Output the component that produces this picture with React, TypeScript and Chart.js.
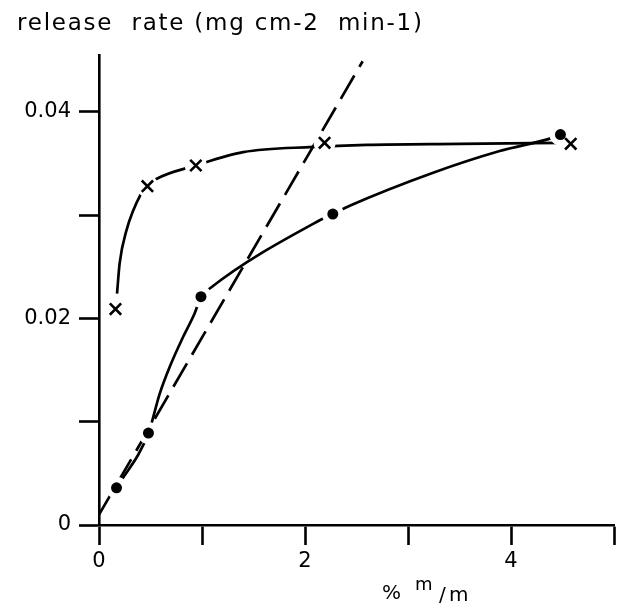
import React, { useEffect, useRef } from "react";
import { Chart, registerables } from "chart.js";

Chart.register(...registerables);

// measured points: crosses series
const crossX = [0.16, 0.47, 0.94, 2.19, 4.58];
const crossY = [0.0209, 0.0328, 0.0348, 0.037, 0.0369];
// measured points: dots series
const dotX = [0.17, 0.48, 0.99, 2.27, 4.48];
const dotY = [0.0036, 0.0089, 0.0221, 0.0301, 0.0378];
// hand-drawn curve through the crosses
const crossCurveX = [0.175, 0.2, 0.266, 0.41, 0.466, 0.557, 0.936, 1.4, 2.08, 2.6, 3.5, 4.5];
const crossCurveY = [0.0224, 0.0253, 0.0285, 0.0321, 0.0328, 0.0335, 0.0348, 0.0361, 0.0366, 0.0368, 0.0369, 0.037];
// hand-drawn curve through the dots
const dotCurveX = [0.17, 0.48, 0.589, 0.686, 0.816, 0.929, 0.99, 1.075, 2.143, 2.27, 2.434, 3.244, 3.89, 4.408, 4.48];
const dotCurveY = [0.0036, 0.0089, 0.0127, 0.0153, 0.0182, 0.0205, 0.0221, 0.0229, 0.0295, 0.0301, 0.0309, 0.0341, 0.0362, 0.0375, 0.0378];
// dashed straight line (end points)
const dashX = [0, 2.56];
const dashY = [0.001, 0.0449];

const xTickLabels: Record<number, string> = { 0: "0", 2: "2", 4: "4" };
const yTickLabels: Record<string, string> = { "0": "0", "0.02": "0.02", "0.04": "0.04" };

const titleText = "release  rate (mg cm-2  min-1)";
const xTitleMain = "%";
const xTitleSup = "m";
const xTitleSlash = "/";
const xTitleSub = "m";

const FONT = "'DejaVu Sans', sans-serif";

const pts = (xs: number[], ys: number[]) => xs.map((x, i) => ({ x, y: ys[i] }));

const textPlugin = {
  id: "texts",
  afterDraw(chart: any) {
    const ctx = chart.ctx as CanvasRenderingContext2D;
    ctx.save();
    ctx.fillStyle = "#000";
    ctx.textBaseline = "alphabetic";
    ctx.textAlign = "left";
    // title
    ctx.font = `23px ${FONT}`;
    const w = ctx.measureText(titleText).width;
    const target = 405;
    const ls = Math.max(0, (target - w) / (titleText.length - 1));
    (ctx as any).letterSpacing = `${ls}px`;
    ctx.fillText(titleText, 17, 30);
    (ctx as any).letterSpacing = "0px";
    // x title
    ctx.font = `20px ${FONT}`;
    ctx.fillText(xTitleMain, 382, 599);
    ctx.font = `18px ${FONT}`;
    ctx.fillText(xTitleSup, 415, 590);
    ctx.font = `20px ${FONT}`;
    ctx.fillText(xTitleSlash, 439, 601);
    ctx.fillText(xTitleSub, 449, 601);
    ctx.restore();
  },
};

export default function App() {
  const ref = useRef<HTMLCanvasElement | null>(null);
  useEffect(() => {
    if (!ref.current) return;
    const lineCommon = {
      showLine: true,
      pointRadius: 0,
      borderColor: "#000",
      borderWidth: 2.7,
      fill: false,
    };
    const gapCommon = {
      showLine: false,
      pointRadius: 11,
      pointBackgroundColor: "#fff",
      pointBorderWidth: 0,
      pointBorderColor: "#fff",
      order: 5,
    };
    const chart = new Chart(ref.current, {
      type: "scatter",
      data: {
        datasets: [
          {
            ...lineCommon,
            label: "cross curve",
            data: pts(crossCurveX, crossCurveY),
            cubicInterpolationMode: "monotone",
            order: 10,
          } as any,
          {
            ...lineCommon,
            label: "dot curve",
            data: pts(dotCurveX, dotCurveY),
            cubicInterpolationMode: "monotone",
            order: 10,
          } as any,
          {
            ...lineCommon,
            label: "dashed",
            data: pts(dashX, dashY),
            borderDash: [27, 10],
            order: 11,
          } as any,
          { ...gapCommon, label: "cross gap", data: pts(crossX, crossY) } as any,
          { ...gapCommon, label: "dot gap", data: pts(dotX, dotY) } as any,
          {
            label: "crosses",
            data: pts(crossX, crossY),
            showLine: false,
            pointStyle: "crossRot",
            pointRadius: 8,
            pointBorderWidth: 2.6,
            pointBorderColor: "#000",
            order: 1,
          } as any,
          {
            label: "dots",
            data: pts(dotX, dotY),
            showLine: false,
            pointStyle: "circle",
            pointRadius: 5.5,
            pointBackgroundColor: "#000",
            pointBorderColor: "#000",
            pointBorderWidth: 0,
            order: 1,
          } as any,
        ],
      },
      options: {
        animation: false,
        responsive: false,
        maintainAspectRatio: false,
        layout: { padding: { left: 0, right: 13, top: 55, bottom: 0 } },
        plugins: { legend: { display: false }, tooltip: { enabled: false }, title: { display: false } },
        scales: {
          x: {
            type: "linear",
            min: 0,
            max: 5,
            ticks: {
              stepSize: 1,
              autoSkip: false,
              maxRotation: 0,
              padding: 4,
              color: "#000",
              font: { family: FONT, size: 21 },
              callback: (v: any) => xTickLabels[Math.round(Number(v))] ?? "",
            },
            grid: {
              drawOnChartArea: false,
              drawTicks: true,
              tickLength: 20,
              tickColor: "#000",
              tickWidth: 2.6,
            },
            border: { display: true, color: "#000", width: 2.6 },
            afterFit: (s: any) => {
              s.height = 80;
            },
          },
          y: {
            type: "linear",
            min: 0,
            max: 0.0455,
            afterBuildTicks: (s: any) => {
              s.ticks = s.ticks.filter((t: any) => Math.abs(t.value * 100 - Math.round(t.value * 100)) < 1e-6);
            },
            ticks: {
              stepSize: 0.01,
              autoSkip: false,
              padding: 8,
              color: "#000",
              font: { family: FONT, size: 21 },
              callback: (v: any) => yTickLabels[String(Math.round(Number(v) * 100) / 100)] ?? "",
            },
            grid: {
              drawOnChartArea: false,
              drawTicks: true,
              tickLength: 20,
              tickColor: "#000",
              tickWidth: 2.6,
            },
            border: { display: true, color: "#000", width: 2.6 },
            afterFit: (s: any) => {
              s.width = 99;
            },
          },
        },
      },
      plugins: [textPlugin],
    });
    return () => chart.destroy();
  }, []);
  return (
    <div style={{ position: "absolute", left: 0, top: 0, width: 627, height: 605, background: "#fff" }}>
      <canvas ref={ref} width={627} height={605} style={{ width: 627, height: 605, display: "block" }} />
    </div>
  );
}
